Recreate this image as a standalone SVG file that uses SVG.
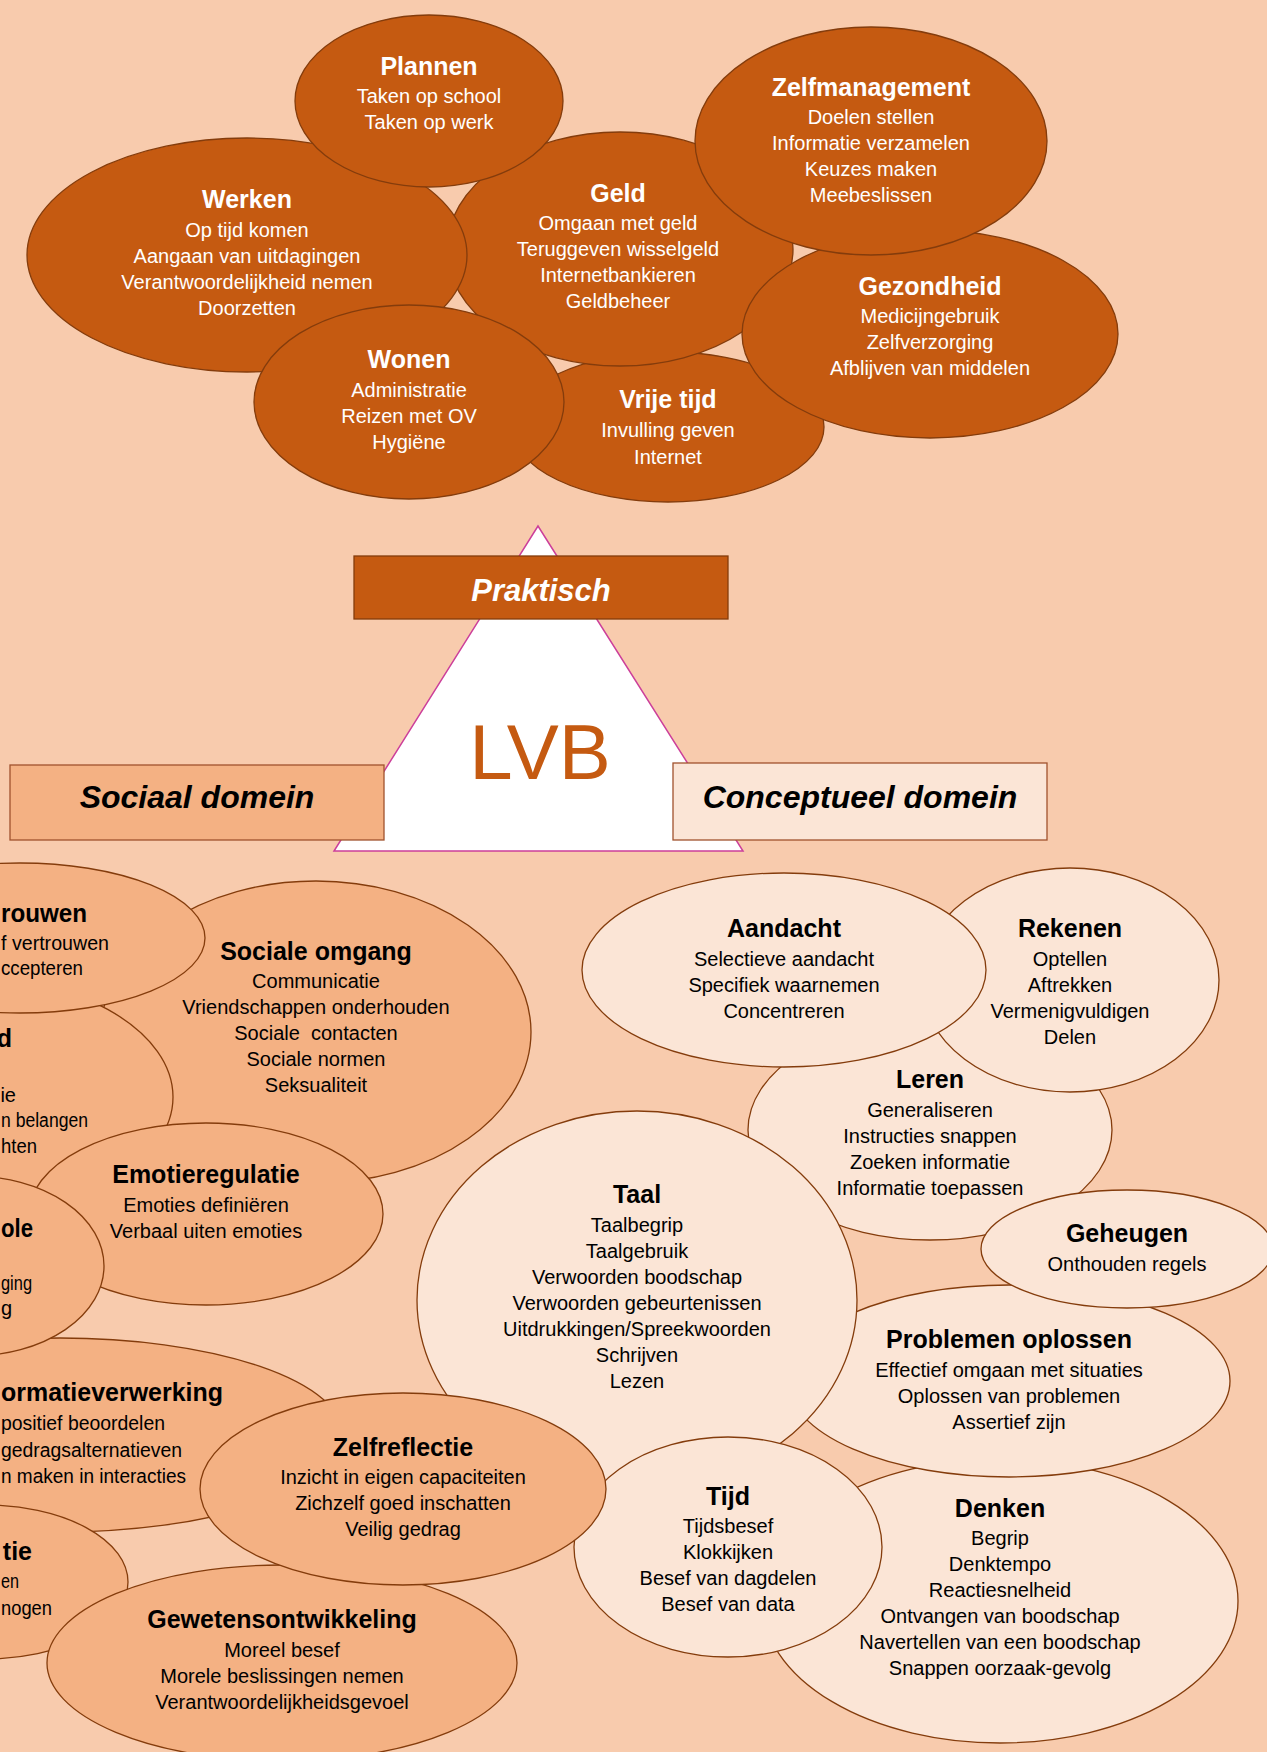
<svg xmlns="http://www.w3.org/2000/svg" width="1267" height="1752" viewBox="0 0 1267 1752">
<style>
.p{fill:#C55A11;stroke:#843C0C;stroke-width:1.3}
.s{fill:#F4B183;stroke:#843C0C;stroke-width:1.3}
.c{fill:#FBE5D6;stroke:#843C0C;stroke-width:1.3}
text{font-family:"Liberation Sans",Arial,sans-serif;text-anchor:middle}
.t{font-size:25px;font-weight:bold}
.b{font-size:20px}
.w{fill:#FFFFFF}
.k{fill:#000000}
.e{text-anchor:end}
.l{text-anchor:start}
.dom{font-size:32px;font-weight:bold;font-style:italic}
</style>
<rect x="0" y="0" width="1267" height="1752" fill="#F8CBAD"/>

<!-- Praktisch -->
<g id="vrije-tijd"><ellipse class="p" cx="668" cy="427" rx="156" ry="75"/>
<text class="t w" x="668" y="408">Vrije tijd</text>
<text class="b w" x="668" y="437">Invulling geven</text>
<text class="b w" x="668" y="464">Internet</text></g>
<g id="geld"><ellipse class="p" cx="620" cy="249" rx="173" ry="117"/>
<text class="t w" x="618" y="202">Geld</text>
<text class="b w" x="618" y="230">Omgaan met geld</text>
<text class="b w" x="618" y="256">Teruggeven wisselgeld</text>
<text class="b w" x="618" y="282">Internetbankieren</text>
<text class="b w" x="618" y="308">Geldbeheer</text></g>
<g id="gezondheid"><ellipse class="p" cx="930" cy="334" rx="188" ry="104"/>
<text class="t w" x="930" y="295">Gezondheid</text>
<text class="b w" x="930" y="323">Medicijngebruik</text>
<text class="b w" x="930" y="349">Zelfverzorging</text>
<text class="b w" x="930" y="375">Afblijven van middelen</text></g>
<g id="zelfmanagement"><ellipse class="p" cx="871" cy="141" rx="176" ry="114"/>
<text class="t w" x="871" y="96">Zelfmanagement</text>
<text class="b w" x="871" y="124">Doelen stellen</text>
<text class="b w" x="871" y="150">Informatie verzamelen</text>
<text class="b w" x="871" y="176">Keuzes maken</text>
<text class="b w" x="871" y="202">Meebeslissen</text></g>
<g id="werken"><ellipse class="p" cx="247" cy="255" rx="220" ry="117"/>
<text class="t w" x="247" y="208">Werken</text>
<text class="b w" x="247" y="237">Op tijd komen</text>
<text class="b w" x="247" y="263">Aangaan van uitdagingen</text>
<text class="b w" x="247" y="289">Verantwoordelijkheid nemen</text>
<text class="b w" x="247" y="315">Doorzetten</text></g>
<g id="wonen"><ellipse class="p" cx="409" cy="402" rx="155" ry="97"/>
<text class="t w" x="409" y="368">Wonen</text>
<text class="b w" x="409" y="397">Administratie</text>
<text class="b w" x="409" y="423">Reizen met OV</text>
<text class="b w" x="409" y="449">Hygiëne</text></g>
<g id="plannen"><ellipse class="p" cx="429" cy="101" rx="134" ry="86"/>
<text class="t w" x="429" y="75">Plannen</text>
<text class="b w" x="429" y="103">Taken op school</text>
<text class="b w" x="429" y="129">Taken op werk</text></g>

<!-- Centre -->
<g id="lvb"><polygon points="538,526 334,851 743,851" fill="#FFFFFF" stroke="#CC3F9A" stroke-width="1.5"/>
<text x="540" y="779" font-size="78" fill="#C55A11">LVB</text></g>
<g id="praktisch"><rect x="354" y="556" width="374" height="63" fill="#C55A11" stroke="#843C0C" stroke-width="1.3"/>
<text class="w" x="541" y="601" font-size="31" font-weight="bold" font-style="italic">Praktisch</text></g>
<g id="sociaal-domein"><rect x="10" y="765" width="374" height="75" fill="#F4B183" stroke="#A0522D" stroke-width="1.3"/>
<text class="dom k" x="197" y="808">Sociaal domein</text></g>
<g id="conceptueel-domein"><rect x="673" y="763" width="374" height="77" fill="#FBE5D6" stroke="#A0522D" stroke-width="1.3"/>
<text class="dom k" x="860" y="808">Conceptueel domein</text></g>

<!-- Conceptueel -->
<g id="denken"><ellipse class="c" cx="1000" cy="1601" rx="238" ry="142"/>
<text class="t k" x="1000" y="1517">Denken</text>
<text class="b k" x="1000" y="1545">Begrip</text>
<text class="b k" x="1000" y="1571">Denktempo</text>
<text class="b k" x="1000" y="1597">Reactiesnelheid</text>
<text class="b k" x="1000" y="1623">Ontvangen van boodschap</text>
<text class="b k" x="1000" y="1649">Navertellen van een boodschap</text>
<text class="b k" x="1000" y="1675">Snappen oorzaak-gevolg</text></g>
<g id="problemen-oplossen"><ellipse class="c" cx="1009" cy="1381" rx="221" ry="96"/>
<text class="t k" x="1009" y="1348">Problemen oplossen</text>
<text class="b k" x="1009" y="1377">Effectief omgaan met situaties</text>
<text class="b k" x="1009" y="1403">Oplossen van problemen</text>
<text class="b k" x="1009" y="1429">Assertief zijn</text></g>
<g id="leren"><ellipse class="c" cx="930" cy="1130" rx="182" ry="110"/>
<text class="t k" x="930" y="1088">Leren</text>
<text class="b k" x="930" y="1117">Generaliseren</text>
<text class="b k" x="930" y="1143">Instructies snappen</text>
<text class="b k" x="930" y="1169">Zoeken informatie</text>
<text class="b k" x="930" y="1195">Informatie toepassen</text></g>
<g id="rekenen"><ellipse class="c" cx="1070" cy="980" rx="149" ry="112"/>
<text class="t k" x="1070" y="937">Rekenen</text>
<text class="b k" x="1070" y="966">Optellen</text>
<text class="b k" x="1070" y="992">Aftrekken</text>
<text class="b k" x="1070" y="1018">Vermenigvuldigen</text>
<text class="b k" x="1070" y="1044">Delen</text></g>
<g id="aandacht"><ellipse class="c" cx="784" cy="970" rx="202" ry="97"/>
<text class="t k" x="784" y="937">Aandacht</text>
<text class="b k" x="784" y="966">Selectieve aandacht</text>
<text class="b k" x="784" y="992">Specifiek waarnemen</text>
<text class="b k" x="784" y="1018">Concentreren</text></g>
<g id="geheugen"><ellipse class="c" cx="1127" cy="1249" rx="146" ry="59"/>
<text class="t k" x="1127" y="1242">Geheugen</text>
<text class="b k" x="1127" y="1271">Onthouden regels</text></g>
<g id="taal"><ellipse class="c" cx="637" cy="1300" rx="220" ry="189"/>
<text class="t k" x="637" y="1203">Taal</text>
<text class="b k" x="637" y="1232">Taalbegrip</text>
<text class="b k" x="637" y="1258">Taalgebruik</text>
<text class="b k" x="637" y="1284">Verwoorden boodschap</text>
<text class="b k" x="637" y="1310">Verwoorden gebeurtenissen</text>
<text class="b k" x="637" y="1336">Uitdrukkingen/Spreekwoorden</text>
<text class="b k" x="637" y="1362">Schrijven</text>
<text class="b k" x="637" y="1388">Lezen</text></g>
<g id="tijd"><ellipse class="c" cx="728" cy="1547" rx="154" ry="110"/>
<text class="t k" x="728" y="1505">Tijd</text>
<text class="b k" x="728" y="1533">Tijdsbesef</text>
<text class="b k" x="728" y="1559">Klokkijken</text>
<text class="b k" x="728" y="1585">Besef van dagdelen</text>
<text class="b k" x="728" y="1611">Besef van data</text></g>

<!-- Sociaal -->
<g id="sociale-omgang"><ellipse class="s" cx="316" cy="1032" rx="215" ry="151"/>
<text class="t k" x="316" y="960">Sociale omgang</text>
<text class="b k" x="316" y="988">Communicatie</text>
<text class="b k" x="316" y="1014">Vriendschappen onderhouden</text>
<text class="b k" x="316" y="1040" style="white-space:pre">Sociale  contacten</text>
<text class="b k" x="316" y="1066">Sociale normen</text>
<text class="b k" x="316" y="1092">Seksualiteit</text></g>
<g id="node-d"><ellipse class="s" cx="-50" cy="1097" rx="223" ry="124"/>
<text class="t k e" x="12" y="1047">d</text>
<text class="b k e" x="16" y="1102">ie</text>
<text class="b k l" x="1" y="1127" textLength="87" lengthAdjust="spacingAndGlyphs">n belangen</text>
<text class="b k l" x="1" y="1153" textLength="36" lengthAdjust="spacingAndGlyphs">hten</text></g>
<g id="vertrouwen"><ellipse class="s" cx="20" cy="938" rx="185" ry="75"/>
<text class="t k l" x="1" y="922" textLength="86" lengthAdjust="spacingAndGlyphs">rouwen</text>
<text class="b k l" x="1" y="950" textLength="108" lengthAdjust="spacingAndGlyphs">f vertrouwen</text>
<text class="b k l" x="1" y="975" textLength="82" lengthAdjust="spacingAndGlyphs">ccepteren</text></g>
<g id="emotieregulatie"><ellipse class="s" cx="206" cy="1214" rx="177" ry="91"/>
<text class="t k" x="206" y="1183">Emotieregulatie</text>
<text class="b k" x="206" y="1212">Emoties definiëren</text>
<text class="b k" x="206" y="1238">Verbaal uiten emoties</text></g>
<g id="informatieverwerking"><ellipse class="s" cx="60" cy="1435" rx="283" ry="97"/>
<text class="t k l" x="1" y="1401" textLength="222" lengthAdjust="spacingAndGlyphs">ormatieverwerking</text>
<text class="b k l" x="1" y="1430" textLength="164" lengthAdjust="spacingAndGlyphs">positief beoordelen</text>
<text class="b k l" x="1" y="1457" textLength="181" lengthAdjust="spacingAndGlyphs">gedragsalternatieven</text>
<text class="b k l" x="1" y="1483" textLength="185" lengthAdjust="spacingAndGlyphs">n maken in interacties</text></g>
<g id="node-ole"><ellipse class="s" cx="-28" cy="1266" rx="132" ry="90"/>
<text class="t k l" x="1" y="1237" textLength="32" lengthAdjust="spacingAndGlyphs">ole</text>
<text class="b k l" x="1" y="1290" textLength="31" lengthAdjust="spacingAndGlyphs">ging</text>
<text class="b k l" x="1" y="1315">g</text></g>
<g id="node-tie"><ellipse class="s" cx="-15" cy="1582" rx="143" ry="77"/>
<text class="t k e" x="32" y="1560">tie</text>
<text class="b k l" x="1" y="1588" textLength="18" lengthAdjust="spacingAndGlyphs">en</text>
<text class="b k l" x="1" y="1615" textLength="51" lengthAdjust="spacingAndGlyphs">nogen</text></g>
<g id="gewetensontwikkeling"><ellipse class="s" cx="282" cy="1663" rx="235" ry="98"/>
<text class="t k" x="282" y="1628">Gewetensontwikkeling</text>
<text class="b k" x="282" y="1657">Moreel besef</text>
<text class="b k" x="282" y="1683">Morele beslissingen nemen</text>
<text class="b k" x="282" y="1709">Verantwoordelijkheidsgevoel</text></g>
<g id="zelfreflectie"><ellipse class="s" cx="403" cy="1489" rx="203" ry="96"/>
<text class="t k" x="403" y="1456">Zelfreflectie</text>
<text class="b k" x="403" y="1484">Inzicht in eigen capaciteiten</text>
<text class="b k" x="403" y="1510">Zichzelf goed inschatten</text>
<text class="b k" x="403" y="1536">Veilig gedrag</text></g>
</svg>
